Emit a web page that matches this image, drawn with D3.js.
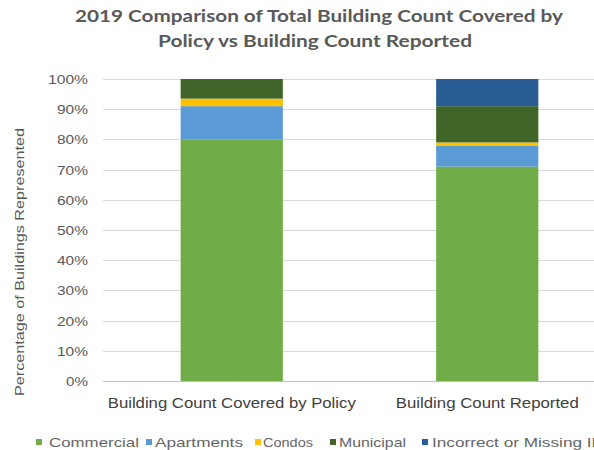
<!DOCTYPE html>
<html>
<head>
<meta charset="utf-8">
<script src="https://cdn.jsdelivr.net/npm/d3@7"></script>
<style>
  html, body { margin: 0; padding: 0; background: #fff; overflow: hidden; }
  svg { display: block; }
</style>
</head>
<body>
<script>
// Building categories (x axis)
const categories = ["Building Count Covered by Policy", "Building Count Reported"];

// Share of buildings per type, in percent
const commercial = [80, 71];
const apartments = [11, 7];
const condos = [2.5, 1];
const municipal = [6.5, 12];
const incorrect = [0, 9];

const seriesNames = ["Commercial", "Apartments", "Condos", "Municipal", "Incorrect or Missing ID"];
const seriesColors = ["#70AD47", "#5B9BD5", "#FFC000", "#3F6628", "#285E94"];
const yTicks = [0, 10, 20, 30, 40, 50, 60, 70, 80, 90, 100];

const W = 594, H = 450;
const margin = { top: 79, bottom: 450 - 381, left: 104 };

const rows = categories.map((c, i) => ({
  category: c,
  "Commercial": commercial[i],
  "Apartments": apartments[i],
  "Condos": condos[i],
  "Municipal": municipal[i],
  "Incorrect or Missing ID": incorrect[i]
}));

const stacked = d3.stack().keys(seriesNames)(rows);

const svg = d3.select("body").append("svg")
  .attr("width", W).attr("height", H);

const x = d3.scaleBand()
  .domain(categories)
  .range([margin.left, 615])
  .paddingInner(0.6)
  .paddingOuter(0.3);

const y = d3.scaleLinear()
  .domain([0, 100])
  .range([H - margin.bottom, margin.top]);

const color = d3.scaleOrdinal().domain(seriesNames).range(seriesColors);

// Horizontal gridlines
svg.append("g")
  .selectAll("line")
  .data(yTicks)
  .join("line")
  .attr("x1", margin.left - 1)
  .attr("x2", W)
  .attr("y1", d => Math.round(y(d)) + 0.5)
  .attr("y2", d => Math.round(y(d)) + 0.5)
  .attr("stroke", d => d === 0 ? "#bfbfbf" : "#d9d9d9")
  .attr("stroke-width", 1);

// Y axis tick labels
const yAxis = d3.axisLeft(y)
  .tickValues(yTicks)
  .tickFormat(d => d + "%")
  .tickSize(0)
  .tickPadding(0);

const gy = svg.append("g")
  .attr("transform", `translate(88,0)`)
  .call(yAxis);
gy.select(".domain").remove();
gy.selectAll("text")
  .attr("font-family", "'Liberation Sans', Arial, sans-serif")
  .attr("font-size", 13)
  .attr("fill", "#595959")
  .attr("dy", "0.35em")
  .attr("textLength", d => d === 100 ? 40 : (d === 0 ? 22 : 31))
  .attr("lengthAdjust", "spacingAndGlyphs");

// Stacked bars
svg.append("g")
  .selectAll("g")
  .data(stacked)
  .join("g")
  .attr("fill", d => color(d.key))
  .selectAll("rect")
  .data(d => d)
  .join("rect")
  .attr("x", d => x(d.data.category))
  .attr("width", x.bandwidth())
  .attr("y", d => y(d[1]))
  .attr("height", d => y(d[0]) - y(d[1]));

// X axis category labels
const xAxis = d3.axisBottom(x).tickSize(0).tickPadding(0);
const gx = svg.append("g")
  .attr("transform", `translate(0,${y(0) + 22})`)
  .call(xAxis);
gx.select(".domain").remove();
gx.selectAll("text")
  .attr("font-family", "'Liberation Sans', Arial, sans-serif")
  .attr("font-size", 14)
  .attr("fill", "#404040")
  .attr("dy", "0.35em")
  .attr("textLength", (d, i) => i === 0 ? 248 : 183)
  .attr("lengthAdjust", "spacingAndGlyphs");

// Y axis title
svg.append("text")
  .attr("transform", `translate(24,262) rotate(-90)`)
  .attr("text-anchor", "middle")
  .attr("font-family", "'Liberation Sans', Arial, sans-serif")
  .attr("font-size", 13)
  .attr("fill", "#595959")
  .attr("textLength", 268)
  .attr("lengthAdjust", "spacingAndGlyphs")
  .text("Percentage of Buildings Represented");

// Chart title
const title = svg.append("g")
  .attr("font-family", "Lato, 'Open Sans', sans-serif")
  .attr("font-weight", "bold")
  .attr("font-size", 17)
  .attr("fill", "#595959")
  .attr("text-anchor", "middle");
title.append("text")
  .attr("x", 319).attr("y", 22)
  .attr("textLength", 488).attr("lengthAdjust", "spacingAndGlyphs")
  .text("2019 Comparison of Total Building Count Covered by");
title.append("text")
  .attr("x", 315).attr("y", 47)
  .attr("textLength", 314).attr("lengthAdjust", "spacingAndGlyphs")
  .text("Policy vs Building Count Reported");

// Legend (the last entry runs past the right edge of the chart)
const legendItems = [
  { name: "Commercial", mx: 36, tx: 49, w: 90 },
  { name: "Apartments", mx: 146, tx: 155, w: 88 },
  { name: "Condos", mx: 255, tx: 263, w: 50 },
  { name: "Municipal", mx: 330, tx: 339, w: 67 },
  { name: "Incorrect or Missing ID", mx: 422, tx: 432, w: 172 }
];
const legend = svg.append("g");
legend.selectAll("rect")
  .data(legendItems)
  .join("rect")
  .attr("x", d => d.mx)
  .attr("y", 439)
  .attr("width", 6)
  .attr("height", 6)
  .attr("fill", d => color(d.name));
legend.selectAll("text")
  .data(legendItems)
  .join("text")
  .attr("x", d => d.tx)
  .attr("y", 442)
  .attr("dy", "0.35em")
  .attr("font-family", "'Liberation Sans', Arial, sans-serif")
  .attr("font-size", 13)
  .attr("fill", "#666666")
  .attr("textLength", d => d.w)
  .attr("lengthAdjust", "spacingAndGlyphs")
  .text(d => d.name);
</script>
</body>
</html>
